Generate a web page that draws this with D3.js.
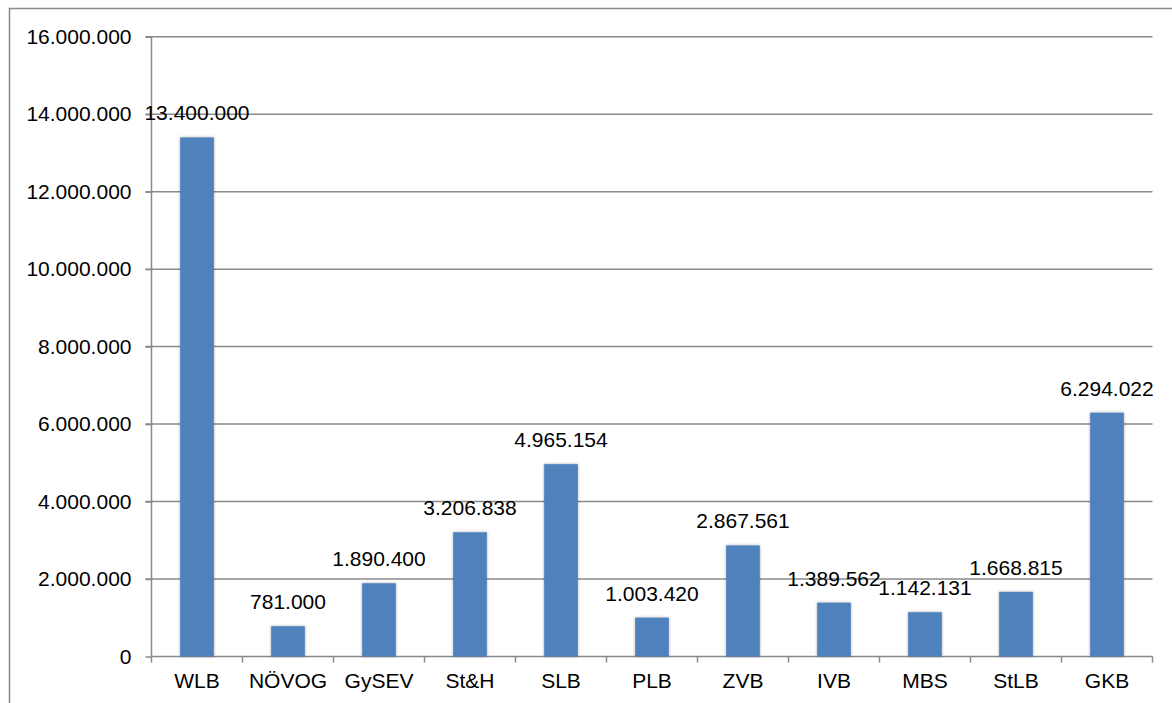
<!DOCTYPE html>
<html><head><meta charset="utf-8">
<script src="https://cdn.jsdelivr.net/npm/d3@7"></script>
<style>
body{margin:0;background:#fff;}
text{font-family:"Liberation Sans",Arial,sans-serif;}
</style></head>
<body><svg id="c" width="1172" height="703"></svg>
<script>
const categories = ["WLB","NÖVOG","GySEV","St&H","SLB","PLB","ZVB","IVB","MBS","StLB","GKB"];
const values = [13400000,781000,1890400,3206838,4965154,1003420,2867561,1389562,1142131,1668815,6294022];
const yTicks = [0,2000000,4000000,6000000,8000000,10000000,12000000,14000000,16000000];

const svg = d3.select("#c");
const L = 151.5, R = 1152.5, T = 36.7, B = 656.5;
const FS = 21;
const fmt = v => d3.format(",")(v).replace(/,/g, ".");

// outer border
svg.append("rect").attr("x",9.5).attr("y",8.5).attr("width",1200).attr("height",720)
  .attr("fill","none").attr("stroke","#8a8a8a").attr("stroke-width",1.5);

const x = d3.scaleBand().domain(categories).range([L,R]).paddingInner(0.63).paddingOuter(0.315);
const xb = d3.scaleBand().domain(categories).range([L,R]);
const y = d3.scaleLinear().domain([0,16000000]).range([B,T]);

const defs = svg.append("defs");
const f = defs.append("filter").attr("id","sh").attr("x","-30%").attr("y","-10%").attr("width","160%").attr("height","120%");
f.append("feGaussianBlur").attr("in","SourceAlpha").attr("stdDeviation",1.6).attr("result","b");
f.append("feOffset").attr("in","b").attr("dx",0).attr("dy",0).attr("result","o");
f.append("feComponentTransfer").attr("in","o").attr("result","t").append("feFuncA").attr("type","linear").attr("slope",0.35);
const m = f.append("feMerge"); m.append("feMergeNode").attr("in","t"); m.append("feMergeNode").attr("in","SourceGraphic");

// gridlines
svg.append("g").selectAll("line").data(yTicks.filter(d=>d>0)).join("line")
  .attr("x1",L-6).attr("x2",R).attr("y1",d=>y(d)).attr("y2",d=>y(d))
  .attr("stroke","#8a8a8a").attr("stroke-width",1.5);

// y axis
const ya = svg.append("g").attr("transform",`translate(${L},0)`)
  .call(d3.axisLeft(y).tickValues(yTicks).tickFormat(fmt).tickSize(6).tickPadding(14));
ya.select(".domain").attr("stroke","#8a8a8a").attr("stroke-width",1.5).attr("d",`M0,${T}V${B}`);
ya.selectAll(".tick line").attr("stroke","#8a8a8a").attr("stroke-width",1.5);
ya.selectAll("text").attr("font-size",FS).attr("fill","#000").attr("font-family","Liberation Sans, Arial, sans-serif");

// x axis
const xa = svg.append("g").attr("transform",`translate(0,${B})`)
  .call(d3.axisBottom(xb).tickSize(0).tickPadding(16.5));
xa.select(".domain").attr("stroke","#8a8a8a").attr("stroke-width",1.5).attr("d",`M${L},0H${R}`);
xa.selectAll("text").attr("font-size",FS).attr("fill","#000").attr("font-family","Liberation Sans, Arial, sans-serif");
const bounds = categories.map(c=>xb(c)).concat([R]);
svg.append("g").selectAll("line").data(bounds).join("line")
  .attr("x1",d=>d).attr("x2",d=>d).attr("y1",B).attr("y2",B+6)
  .attr("stroke","#8a8a8a").attr("stroke-width",1.5);

// bars
svg.append("g").selectAll("rect").data(values).join("rect")
  .attr("x",(d,i)=>x(categories[i])).attr("width",x.bandwidth())
  .attr("y",d=>y(d)).attr("height",d=>B-y(d))
  .attr("fill","#4F81BD").attr("filter","url(#sh)");

// labels
svg.append("g").selectAll("text").data(values).join("text")
  .attr("x",(d,i)=>xb(categories[i])+xb.bandwidth()/2)
  .attr("y",d=>y(d)-17)
  .attr("text-anchor","middle").attr("font-size",FS).attr("fill","#000")
  .text(fmt);
</script></body></html>
